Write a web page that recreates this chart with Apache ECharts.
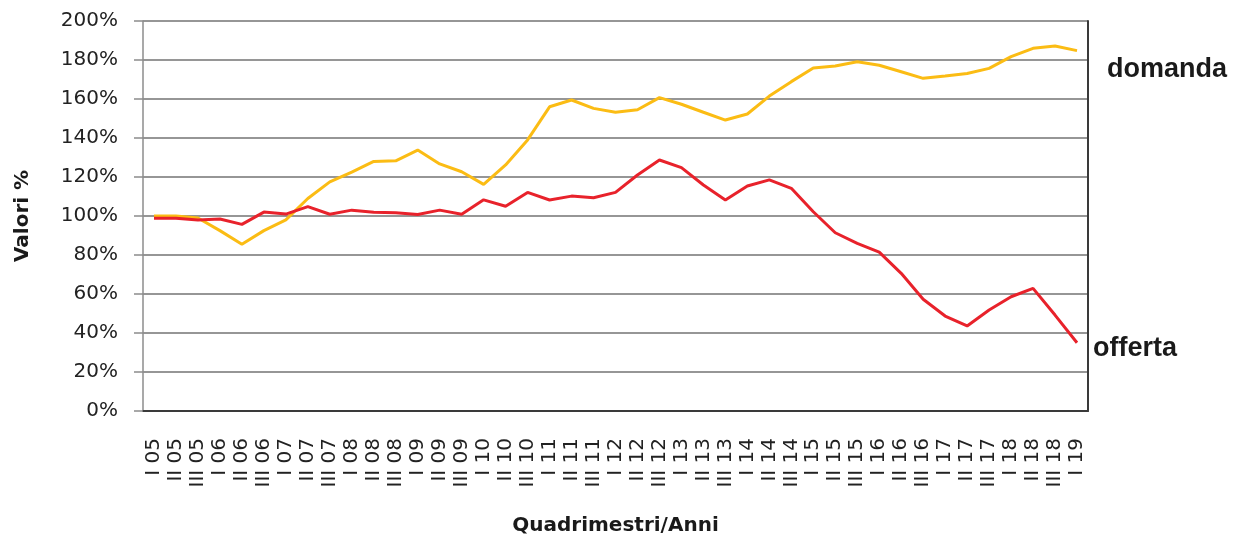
<!DOCTYPE html>
<html>
<head>
<meta charset="utf-8">
<title>domanda / offerta</title>
<script src="https://cdn.jsdelivr.net/npm/echarts@6/dist/echarts.min.js"></script>
<style>
    html, body { margin: 0; padding: 0; background: #fff; }
    #chart { width: 1240px; height: 539px; }
</style>
</head>
<body>
<div id="chart"></div>
<script>
// quadrimestri I/II/III dal 2005 al 2019
var CATEGORIES = ['I 05','II 05','III 05','I 06','II 06','III 06','I 07','II 07','III 07',
    'I 08','II 08','III 08','I 09','II 09','III 09','I 10','II 10','III 10','I 11','II 11','III 11',
    'I 12','II 12','III 12','I 13','II 13','III 13','I 14','II 14','III 14','I 15','II 15','III 15',
    'I 16','II 16','III 16','I 17','II 17','III 17','I 18','II 18','III 18','I 19'];

// valori %
var DOMANDA = [100,100,99,92.5,85.5,92.5,98,109,117.5,122.5,128,128.3,133.8,126.7,122.7,116.2,
    126.2,139,156,159.5,155.2,153.2,154.5,160.7,157.3,153.2,149.2,152.3,161.5,168.9,175.9,176.9,
    179.1,177.3,174,170.6,171.8,173.1,175.7,181.7,186,187.2,184.8];
var OFFERTA = [98.8,98.8,98,98.5,95.7,102,101,104.8,100.9,103,101.9,101.7,100.8,103,100.9,108.3,
    105,112.1,108.2,110.2,109.4,112.1,121,128.7,124.8,115.9,108.2,115.4,118.5,114.2,102.2,91.4,
    86,81.5,70.6,57.3,48.7,43.6,51.8,58.6,62.9,49.2,35];

var Y_MIN = 0, Y_MAX = 200, Y_STEP = 20;

(function(){
    var chart = echarts.init(document.getElementById('chart'));
    var tickFont = 'DejaVu Sans';

    var option = {
        animation: false,
        grid: { left: 143, right: 152, top: 21, bottom: 128, outerBoundsMode: 'none' },
        xAxis: [{
            type: 'category',
            data: CATEGORIES,
            boundaryGap: true,
            axisLine: { lineStyle: { color: '#8c8c8c', width: 1.5 } },
            axisTick: { length: 10, lineStyle: { color: '#8c8c8c', width: 1.5 } },
            axisLabel: {
                rotate: 90, interval: 0, margin: 27,
                fontFamily: tickFont, fontSize: 20, color: '#222'
            },
            name: 'Quadrimestri/Anni',
            nameLocation: 'middle',
            nameGap: 105,
            nameTextStyle: { fontFamily: tickFont, fontWeight: 'bold', fontSize: 20, color: '#1a1a1a' }
        }, {
            // bordo superiore scuro
            type: 'category',
            position: 'top',
            data: CATEGORIES,
            axisLine: { lineStyle: { color: '#3a3a3a', width: 2 } },
            axisTick: { show: false },
            axisLabel: { show: false }
        }],
        yAxis: [{
            type: 'value',
            min: Y_MIN, max: Y_MAX, interval: Y_STEP,
            axisLine: { show: true, lineStyle: { color: '#8c8c8c', width: 1.5 } },
            axisTick: { show: true, length: 9, lineStyle: { color: '#8c8c8c', width: 1.5 } },
            axisLabel: {
                margin: 25, formatter: '{value}%',
                fontFamily: tickFont, fontSize: 20, color: '#222'
            },
            splitLine: { lineStyle: { color: '#969696', width: 2 } },
            name: 'Valori %',
            nameLocation: 'middle',
            nameRotate: 90,
            nameGap: 110,
            nameTextStyle: { fontFamily: tickFont, fontWeight: 'bold', fontSize: 20, color: '#1a1a1a' }
        }, {
            // bordo destro scuro
            type: 'value',
            position: 'right',
            min: Y_MIN, max: Y_MAX, interval: Y_STEP,
            axisLine: { show: true, lineStyle: { color: '#3a3a3a', width: 2 } },
            axisTick: { show: false },
            axisLabel: { show: false },
            splitLine: { show: false }
        }],
        series: [{
            name: 'domanda',
            type: 'line',
            data: DOMANDA,
            symbol: 'none',
            lineStyle: { color: '#fbbc14', width: 3 },
            z: 3
        }, {
            name: 'offerta',
            type: 'line',
            data: OFFERTA,
            symbol: 'none',
            lineStyle: { color: '#e8222b', width: 3 },
            z: 4
        }],
        graphic: [{
            type: 'text', left: 1107, top: 56,
            style: { text: 'domanda', font: 'bold 27px "Liberation Sans", Arial', fill: '#1a1a1a' }
        }, {
            type: 'text', left: 1093, top: 335,
            style: { text: 'offerta', font: 'bold 27px "Liberation Sans", Arial', fill: '#1a1a1a' }
        }]
    };
    chart.setOption(option);
})();
</script>
</body>
</html>
